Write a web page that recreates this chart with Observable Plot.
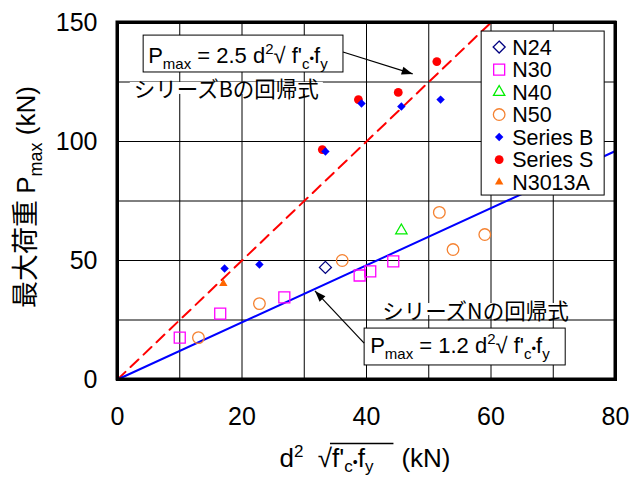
<!DOCTYPE html>
<html><head><meta charset="utf-8">
<script src="https://cdn.jsdelivr.net/npm/d3@7"></script>
<script src="https://cdn.jsdelivr.net/npm/@observablehq/plot@0.6"></script>
<style>body{margin:0;background:#fff;} svg text{white-space:pre;}</style>
</head><body><div id="chart"></div>
<script>
// ---------- data ----------
const seriesNames = ["N24", "N30", "N40", "N50", "Series B", "Series S", "N3013A"];

const n24X = [33.4];
const n24Y = [47.1];
const n30X = [10.0, 16.5, 26.8, 38.9, 40.6, 44.3];
const n30Y = [17.6, 27.7, 34.5, 43.7, 45.4, 49.6];
const n40X = [45.6];
const n40Y = [62.6];
const n50X = [13.0, 22.8, 36.1, 51.7, 53.9, 59.0];
const n50Y = [17.6, 31.9, 50.0, 70.2, 54.6, 60.9];
const seriesBX = [17.2, 22.8, 33.4, 39.2, 45.6, 51.9];
const seriesBY = [46.6, 48.3, 95.8, 116.0, 114.7, 117.6];
const seriesSX = [32.9, 38.7, 45.1, 51.3];
const seriesSY = [96.6, 117.6, 120.6, 133.6];
const n3013aX = [17.0];
const n3013aY = [40.3];

// regression lines: Pmax = k * d^2 sqrt(f'c fy)
const regBSlope = 2.5, regBX = [0, 60];
const regNSlope = 1.2, regNX = [0, 80];

const xTicks = [0, 20, 40, 60, 80];
const yTicks = [0, 50, 100, 150];
const xGrid = [10, 20, 30, 40, 50, 60, 70];
const yGrid = [25, 50, 75, 100, 125];

// ---------- styles ----------
const FONT = "'Liberation Sans', Arial, 'Noto Sans CJK JP', sans-serif";
const JFONT = "'Noto Sans CJK JP', 'Liberation Sans', sans-serif";
const styles = {
  "N24":      {symbol: "diamond2", d3sym: d3.symbolDiamond2, r: 5.4, fill: "none", stroke: "#000080"},
  "N30":      {symbol: "square",   d3sym: d3.symbolSquare,   r: 6.2, fill: "none", stroke: "#ff00ff"},
  "N40":      {symbol: "triangle2", d3sym: d3.symbolTriangle2, r: 5.4, fill: "none", stroke: "#00ee00"},
  "N50":      {symbol: "circle",   d3sym: d3.symbolCircle,   r: 5.8, fill: "none", stroke: "#f58231"},
  "Series B": {symbol: "diamond2", d3sym: d3.symbolDiamond2, r: 3.8, fill: "#0000ff", stroke: "none"},
  "Series S": {symbol: "circle",   d3sym: d3.symbolCircle,   r: 4.4, fill: "#ff0000", stroke: "none"},
  "N3013A":   {symbol: "triangle2", d3sym: d3.symbolTriangle2, r: 4.0, fill: "#ff6600", stroke: "none"}
};
const seriesData = {
  "N24": [n24X, n24Y], "N30": [n30X, n30Y], "N40": [n40X, n40Y], "N50": [n50X, n50Y],
  "Series B": [seriesBX, seriesBY], "Series S": [seriesSX, seriesSY], "N3013A": [n3013aX, n3013aY]
};
const drawOrder = ["N24", "N30", "N40", "N50", "Series S", "Series B", "N3013A"];

const toRows = ([xs, ys]) => xs.map((x, i) => ({x, y: ys[i]}));
const regB = regBX.map(x => ({x, y: regBSlope * x}));
const regN = regNX.map(x => ({x, y: regNSlope * x}));

const dotMarks = drawOrder.map(name => {
  const s = styles[name];
  return Plot.dot(toRows(seriesData[name]), {
    x: "x", y: "y", symbol: s.symbol, r: s.r, fill: s.fill, stroke: s.stroke,
    strokeWidth: s.fill === "none" ? 1.3 : 0
  });
});

const chart = Plot.plot({
  width: 639, height: 478,
  marginLeft: 117, marginRight: 24, marginTop: 22, marginBottom: 99,
  x: {domain: [0, 80]},
  y: {domain: [0, 150]},
  style: {fontFamily: FONT, fontSize: "25px", color: "#000", background: "#fff", overflow: "visible"},
  marks: [
    Plot.gridX(xGrid, {stroke: "#000", strokeOpacity: 1, strokeWidth: 1}),
    Plot.gridY(yGrid, {stroke: "#000", strokeOpacity: 1, strokeWidth: 1}),
    Plot.axisX(xTicks, {tickSize: 0, tickPadding: 28, label: null, fontSize: 25}),
    Plot.axisY(yTicks, {tickSize: 0, tickPadding: 20, label: null, fontSize: 25}),
    Plot.line(regB, {x: "x", y: "y", stroke: "#ff0000", strokeWidth: 2, strokeDasharray: "11,7"}),
    Plot.line(regN, {x: "x", y: "y", stroke: "#0000ff", strokeWidth: 2}),
    ...dotMarks,
    Plot.frame({stroke: "#000", strokeWidth: 3})
  ]
});
document.getElementById("chart").append(chart);

// ---------- annotations ----------
const svg = d3.select(chart);
const X = chart.scale("x"), Y = chart.scale("y");
const px = v => X.apply(v), py = v => Y.apply(v);

// heavy plot frame
svg.append("rect").attr("x", px(0)).attr("y", py(150)).attr("width", px(80) - px(0)).attr("height", py(0) - py(150))
  .attr("fill", "none").attr("stroke", "#000").attr("stroke-width", 3);

const layer = svg.append("g").attr("font-family", FONT).attr("fill", "#000").attr("text-anchor", "start");

function rich(parent, x, y, parts, size, attrs = {}, subShift = 0.28) {
  const t = parent.append("text").attr("x", x).attr("y", y).attr("font-size", size).attr("text-anchor", "start");
  for (const k in attrs) t.attr(k, attrs[k]);
  let shift = 0;
  const spans = [];
  for (const p of parts) {
    const target = p.sub ? size * subShift : p.sup ? -size * 0.4 : 0;
    const sp = t.append("tspan").attr("dy", target - shift).attr("font-size", p.size || size).text(p.t);
    if (p.family) sp.attr("font-family", p.family);
    if (p.dx) sp.attr("dx", p.dx);
    spans.push(sp);
    shift = target;
  }
  return {t, spans};
}

function formula(k) {
  return [
    {t: "P"}, {t: "max", sub: true, size: 15}, {t: " = " + k + " d"}, {t: "2", sup: true, size: 15},
    {t: "√"}, {t: " f'"}, {t: "c", sub: true, size: 15}, {t: "•", size: 13}, {t: "f"}, {t: "y", sub: true, size: 15}
  ];
}

function arrow(x1, y1, x2, y2) {
  layer.append("line").attr("x1", x1).attr("y1", y1).attr("x2", x2).attr("y2", y2)
    .attr("stroke", "#000").attr("stroke-width", 1.2);
  const a = Math.atan2(y2 - y1, x2 - x1), L = 11, W = 4;
  const bx = x2 - L * Math.cos(a), by = y2 - L * Math.sin(a);
  const nx = -Math.sin(a) * W, ny = Math.cos(a) * W;
  layer.append("path").attr("d", `M${x2},${y2}L${bx + nx},${by + ny}L${bx - nx},${by - ny}Z`).attr("fill", "#000");
}

function labelJ(xStart, yC, txt, pad) {
  const t = layer.append("text").attr("x", px(xStart)).attr("y", py(yC)).attr("dominant-baseline", "central")
    .attr("text-anchor", "start").attr("font-family", JFONT).attr("font-size", 21.5).text(txt);
  const bb = t.node().getBBox();
  layer.insert("rect", () => t.node()).attr("x", bb.x - pad).attr("y", py(yC) - 6).attr("width", bb.width + 2 * pad)
    .attr("height", 12).attr("fill", "#fff");
}

// Series B regression annotation
const boxB = {x1: 4.2, x2: 36.3, y1: 129, y2: 144.5};
layer.append("rect").attr("x", px(boxB.x1)).attr("y", py(boxB.y2)).attr("width", px(boxB.x2) - px(boxB.x1))
  .attr("height", py(boxB.y1) - py(boxB.y2)).attr("fill", "#fff").attr("stroke", "#000").attr("stroke-width", 1);
rich(layer, px(boxB.x1) + 5, py(boxB.y1) - 9, formula("2.5"), 22);
labelJ(2.7, 122.3, "シリーズBの回帰式", 4);
arrow(px(36.3), py(137.4), px(47.5), py(128.2));

// Series N regression annotation
const boxN = {x1: 39.7, x2: 72.0, y1: 5.9, y2: 21.4};
layer.append("rect").attr("x", px(boxN.x1)).attr("y", py(boxN.y2)).attr("width", px(boxN.x2) - px(boxN.x1))
  .attr("height", py(boxN.y1) - py(boxN.y2)).attr("fill", "#fff").attr("stroke", "#000").attr("stroke-width", 1);
rich(layer, px(boxN.x1) + 6, py(boxN.y1) - 12, formula("1.2"), 22);
labelJ(42.6, 29.4, "シリーズNの回帰式", 4);
arrow(px(39.7), py(15.1), px(31.8), py(37));

// Legend
const lg = {x1: 58.5, y1: 146.2};
const lx = px(lg.x1), ly = py(lg.y1);
layer.append("rect").attr("x", lx).attr("y", ly).attr("width", 123).attr("height", 164)
  .attr("fill", "#fff").attr("stroke", "#000").attr("stroke-width", 1);
seriesNames.forEach((name, i) => {
  const s = styles[name];
  const cy = ly + 16 + i * 22.5;
  layer.append("path").attr("transform", `translate(${lx + 18},${cy})`)
    .attr("d", d3.symbol().type(s.d3sym).size(Math.PI * s.r * s.r)())
    .attr("fill", s.fill).attr("stroke", s.stroke).attr("stroke-width", s.fill === "none" ? 1.3 : 0);
  layer.append("text").attr("x", lx + 31).attr("y", cy).attr("dy", "0.36em").attr("text-anchor", "start")
    .attr("font-size", 21.5).text(name);
});

// Axis titles
const xl = rich(layer, 0, 467, [
  {t: "d"}, {t: "2", sup: true, size: 17}, {t: "  √"}, {t: "f'"}, {t: "c", sub: true, size: 17},
  {t: "•", size: 14}, {t: "f"}, {t: "y", sub: true, size: 17}, {t: "(kN)", dx: 28}
], 26, {}, 0.2);
const xbb = xl.t.node().getBBox();
xl.t.attr("x", (px(0) + px(80)) / 2 - 1 - xbb.width / 2);
{
  const tb = xl.t.node().getBBox();
  const rootE = xl.spans[2].node();
  const startRad = rootE.getStartPositionOfChar(2).x + rootE.getExtentOfChar(2).width * 0.85;
  const endN = xl.spans[7].node();
  const endX = endN.getEndPositionOfChar(0).x + 20;
  layer.append("line").attr("x1", startRad).attr("x2", endX).attr("y1", tb.y + 2).attr("y2", tb.y + 2)
    .attr("stroke", "#000").attr("stroke-width", 1.5);
}

const yl = rich(layer, 0, 0, [
  {t: "最大荷重 ", family: JFONT, size: 27}, {t: "P"}, {t: "max", sub: true, size: 18}, {t: " (kN)"}
], 26, {"text-anchor": "middle", transform: "translate(35,197) rotate(-90)"});
</script>
</body></html>
